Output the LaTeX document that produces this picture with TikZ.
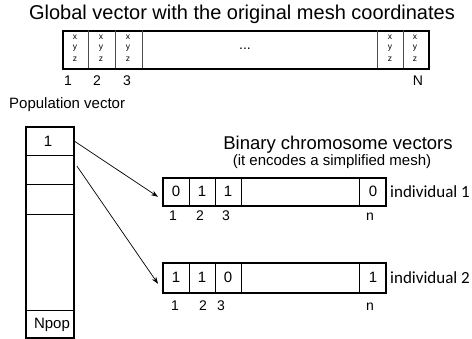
\documentclass[tikz,border=0pt]{standalone}
\usepackage{fontspec}
\setmainfont{Liberation Sans}
\newfontfamily\calib{Carlito}
\usetikzlibrary{arrows.meta}
\begin{document}
\begin{tikzpicture}[x=1pt,y=-1pt,
  cell/.style={draw,line width=0.8pt,inner sep=0pt,anchor=north west},
  outer/.style={draw,line width=1.6pt,inner sep=0pt,anchor=north west},
  lab/.style={inner sep=0pt,font=\fontsize{14}{16}\selectfont},
  val/.style={inner sep=0pt,font=\fontsize{15}{17}\selectfont},
  xyz/.style={inner sep=0pt,font=\fontsize{8.5}{8.5}\selectfont,align=center},
  arr/.style={line width=0.7pt,-{Stealth[length=7pt,width=5pt]}}]
\useasboundingbox (0,0) rectangle (472,338);
% title
\node[inner sep=0pt,font=\fontsize{20}{22}\selectfont] (title) at (242,14) {Global vector with the original mesh coordinates};
% global vector
\node[outer,minimum width=366pt,minimum height=38pt] (gv) at (62,30) {};
\foreach \x in {88,115,142,377,403}{\draw[line width=0.6pt,gray!60!black] (\x,30) -- (\x,68);}
\foreach \x/\n in {75/g1,101/g2,128/g3,390/g4,415/g5}{
  \node[xyz] (\n x) at (\x,37) {x};
  \node[xyz] (\n y) at (\x,48) {y};
  \node[xyz] (\n z) at (\x,59) {z};}
\node[inner sep=0pt,font=\fontsize{14}{14}\selectfont] (dots) at (245,49) {...};
\node[lab] (gl1) at (68,81) {1};
\node[lab] (gl2) at (97,81) {2};
\node[lab] (gl3) at (127,81) {3};
\node[lab] (glN) at (418,81) {N};
% population vector
\node[inner sep=0pt,font=\fontsize{15}{17}\selectfont,anchor=west] (ptitle) at (9,105) {Population vector};
\node[outer,minimum width=48pt,minimum height=211pt] (pv) at (25,126) {};
\node[cell,minimum width=48pt,minimum height=29pt] (p1) at (25,126) {};
\node[cell,minimum width=48pt,minimum height=29pt] (p2) at (25,155) {};
\node[cell,minimum width=48pt,minimum height=30pt] (p3) at (25,184) {};
\node[cell,minimum width=48pt,minimum height=96pt] (p4) at (25,214) {};
\node[cell,minimum width=48pt,minimum height=27pt] (p5) at (25,310) {};
\node[val] (pl1) at (48,141) {1};
\node[val] (plN) at (52,325) {Npop};
% binary chromosome vectors
\node[inner sep=0pt,font=\fontsize{18.5}{20}\selectfont] (btitle) at (338,145) {Binary chromosome vectors};
\node[inner sep=0pt,font=\fontsize{15}{17}\selectfont] (bsub) at (332,162) {(it encodes a simplified mesh)};
% individual 1
\node[outer,minimum width=223pt,minimum height=28pt] (b1) at (162,177) {};
\foreach \x in {189,215,241,359}{\draw[line width=0.8pt] (\x,177) -- (\x,205);}
\node[val] (b1v1) at (176,191) {0};
\node[val] (b1v2) at (202,191) {1};
\node[val] (b1v3) at (228,191) {1};
\node[val] (b1vn) at (373,191) {0};
\node[lab] (b1l1) at (173,216) {1};
\node[lab] (b1l2) at (200,216) {2};
\node[lab] (b1l3) at (226,216) {3};
\node[lab] (b1ln) at (370,217) {n};
\node[inner sep=0pt,anchor=west,font=\calib\fontsize{17}{19}\selectfont] (ind1) at (390,192) {individual 1};
% individual 2
\node[outer,minimum width=223pt,minimum height=30pt] (b2) at (162,262) {};
\foreach \x in {189,215,241,359}{\draw[line width=0.8pt] (\x,262) -- (\x,292);}
\node[val] (b2v1) at (176,277) {1};
\node[val] (b2v2) at (202,277) {1};
\node[val] (b2v3) at (228,277) {0};
\node[val] (b2vn) at (373,277) {1};
\node[lab] (b2l1) at (175,306) {1};
\node[lab] (b2l2) at (203,306) {2};
\node[lab] (b2l3) at (221,306) {3};
\node[lab] (b2ln) at (370,307) {n};
\node[inner sep=0pt,anchor=west,font=\calib\fontsize{17}{19}\selectfont] (ind2) at (390,278) {individual 2};
% arrows
\draw[arr] ([xshift=1pt,yshift=-0.5pt]p1.east) -- ([xshift=-4pt,yshift=-5pt]b1.west);
\draw[arr] ([xshift=3pt,yshift=4pt]p2.east) -- ([xshift=-4pt,yshift=-6pt]b2.west);
\end{tikzpicture}
\end{document}
